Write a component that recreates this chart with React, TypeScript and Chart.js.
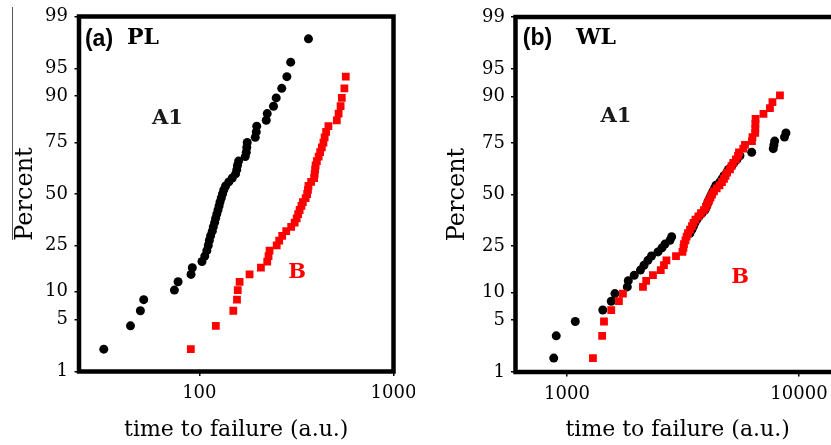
import React, { useEffect, useRef } from 'react';
import { Chart, registerables, LinearScale } from 'chart.js';

Chart.register(...registerables);

// ---------------- data ----------------
// Panel (a) PL : cumulative failure percent (probability plot ranks)
const PL_PERCENT = [2.1, 4.2, 6.3, 8.3, 10.4, 12.5, 14.6, 16.7, 18.8, 20.8, 22.9, 25.0, 27.1, 29.2, 31.3, 33.3, 35.4, 37.5, 39.6, 41.7, 43.8, 45.8, 47.9, 50.0, 52.1, 54.2, 56.3, 58.3, 60.4, 62.5, 64.6, 66.7, 68.8, 70.8, 72.9, 75.0, 77.1, 79.2, 81.3, 83.3, 85.4, 87.5, 89.6, 91.7, 93.8, 95.8, 97.9];
const PL_A1_TIME = [32.2, 44.2, 49.7, 51.7, 74.4, 77.7, 90.6, 92.0, 103.2, 106.7, 109.3, 111.2, 112.6, 114.3, 116.6, 118.0, 119.9, 121.3, 123.0, 124.8, 126.4, 127.8, 129.7, 131.6, 133.6, 136.5, 141.8, 147.8, 153.7, 155.9, 157.2, 159.3, 172.4, 174.5, 175.5, 176.5, 194.1, 196.4, 197.5, 221.1, 223.7, 241.0, 248.8, 265.7, 282.4, 295.5, 364.8];
const PL_B_TIME = [90.4, 121.6, 149.6, 156.3, 157.7, 161.2, 181.4, 207.6, 223.7, 227.2, 229.9, 250.3, 257.8, 267.2, 280.2, 297.2, 309.7, 317.2, 322.8, 328.6, 335.7, 341.3, 352.8, 359.2, 362.6, 364.8, 376.6, 390.3, 392.6, 394.9, 397.2, 402.9, 411.6, 419.0, 427.5, 435.7, 441.9, 449.8, 462.2, 510.5, 521.5, 534.0, 541.7, 558.5, 567.9];

// Panel (b) WL
const WL_PERCENT = [1.6, 3.2, 4.8, 6.5, 8.1, 9.7, 11.3, 12.9, 14.5, 16.1, 17.7, 19.4, 21.0, 22.6, 24.2, 25.8, 27.4, 29.0, 30.6, 32.3, 33.9, 35.5, 37.1, 38.7, 40.3, 41.9, 43.5, 45.2, 46.8, 48.4, 50.0, 51.6, 53.2, 54.8, 56.5, 58.1, 59.7, 61.3, 62.9, 64.5, 66.1, 67.7, 69.4, 71.0, 72.6, 74.2, 75.8, 77.4, 79.0, 80.6, 82.3, 83.9, 85.5, 87.1, 88.7, 90.3];
const WL_A1_TIME = [877, 899, 1086, 1427, 1552, 1610, 1820, 1838, 1950, 2074, 2148, 2234, 2314, 2467, 2567, 2645, 2780, 2827, 3390, 3458, 3510, 3562, 3633, 3707, 3819, 3934, 3993, 4033, 4073, 4135, 4197, 4260, 4324, 4388, 4565, 4657, 4751, 4880, 4968, 5128, 5246, 5405, 5568, 6254, 7748, 7801, 7857, 8660, 8790];
const WL_B_TIME = [1294, 1418, 1444, 1552, 1675, 1743, 2126, 2195, 2348, 2537, 2619, 2685, 2951, 3147, 3178, 3194, 3242, 3280, 3323, 3390, 3458, 3510, 3580, 3689, 3782, 3895, 3973, 4033, 4094, 4155, 4218, 4302, 4419, 4543, 4657, 4751, 4822, 4895, 5043, 5119, 5210, 5351, 5460, 5514, 5754, 5852, 6273, 6305, 6480, 6485, 6490, 6500, 7031, 7499, 7687, 8281];

// tick labels
const PERCENT_TICKS = [1, 5, 10, 25, 50, 75, 90, 95, 99];
const PL_TIME_TICKS = [100, 1000];
const WL_TIME_TICKS = [1000, 10000];

// ---------------- normal probability scale ----------------
function probit(p: number): number {
  const a = [-3.969683028665376e1, 2.209460984245205e2, -2.759285104469687e2, 1.38357751867269e2, -3.066479806614716e1, 2.506628277459239];
  const b = [-5.447609879822406e1, 1.615858368580409e2, -1.556989798598866e2, 6.680131188771972e1, -1.328068155288572e1];
  const c = [-7.784894002430293e-3, -3.223964580411365e-1, -2.400758277161838, -2.549732539343734, 4.374664141464968, 2.938163982698783];
  const d = [7.784695709041462e-3, 3.224671290700398e-1, 2.445134137142996, 3.754408661907416];
  const plow = 0.02425;
  const phigh = 1 - plow;
  if (p < plow) {
    const q = Math.sqrt(-2 * Math.log(p));
    return (((((c[0] * q + c[1]) * q + c[2]) * q + c[3]) * q + c[4]) * q + c[5]) / ((((d[0] * q + d[1]) * q + d[2]) * q + d[3]) * q + 1);
  }
  if (p > phigh) {
    const q = Math.sqrt(-2 * Math.log(1 - p));
    return -(((((c[0] * q + c[1]) * q + c[2]) * q + c[3]) * q + c[4]) * q + c[5]) / ((((d[0] * q + d[1]) * q + d[2]) * q + d[3]) * q + 1);
  }
  const q = p - 0.5;
  const r = q * q;
  return ((((((a[0] * r + a[1]) * r + a[2]) * r + a[3]) * r + a[4]) * r + a[5]) * q) / (((((b[0] * r + b[1]) * r + b[2]) * r + b[3]) * r + b[4]) * r + 1);
}

function normCdf(z: number): number {
  const t = 1 / (1 + (0.3275911 * Math.abs(z)) / Math.SQRT2);
  const y = 1 - ((((1.061405429 * t - 1.453152027) * t + 1.421413741) * t - 0.284496736) * t + 0.254829592) * t * Math.exp((-z * z) / 2);
  return z >= 0 ? 0.5 * (1 + y) : 0.5 * (1 - y);
}

class ProbitScale extends LinearScale {
  static id = 'probit';
  determineDataLimits() {
    const o: any = (this as any).options;
    (this as any).min = typeof o.min === 'number' ? o.min : 1;
    (this as any).max = typeof o.max === 'number' ? o.max : 99;
  }
  buildTicks() {
    return PERCENT_TICKS.map((v) => ({ value: v }));
  }
  configure() {
    super.configure();
    (this as any)._zMin = probit((this as any).min / 100);
    (this as any)._zMax = probit((this as any).max / 100);
  }
  getPixelForValue(value: number) {
    if (value == null || isNaN(value)) return NaN;
    const p = Math.min(Math.max(value, 0.0001), 99.9999) / 100;
    const zMin = (this as any)._zMin;
    const zMax = (this as any)._zMax;
    return (this as any).getPixelForDecimal((probit(p) - zMin) / (zMax - zMin));
  }
  getValueForPixel(pixel: number) {
    const dec = (this as any).getDecimalForPixel(pixel);
    const zMin = (this as any)._zMin;
    const zMax = (this as any)._zMax;
    return 100 * normCdf(zMin + dec * (zMax - zMin));
  }
}
Chart.register(ProbitScale as any);

// ---------------- panel drawing ----------------
type Label = { text: string; dx: number; dy: number; font: string; color: string };

function decorPlugin(labels: Label[]) {
  return {
    id: 'panelDecor',
    afterDraw(chart: any) {
      const { ctx, chartArea: a } = chart;
      ctx.save();
      ctx.lineWidth = 4.5;
      ctx.strokeStyle = '#000';
      ctx.lineJoin = 'miter';
      ctx.strokeRect(a.left, a.top, a.right - a.left, a.bottom - a.top);
      for (const t of labels) {
        ctx.font = t.font;
        ctx.fillStyle = t.color;
        ctx.textAlign = 'center';
        ctx.textBaseline = 'middle';
        ctx.fillText(t.text, a.left + t.dx, a.top + t.dy);
      }
      ctx.restore();
    },
  };
}

type Spec = {
  a1Time: number[];
  a1Pct: number[];
  bTime: number[];
  bPct: number[];
  xMin: number;
  xMax: number;
  xTicks: number[];
  yAxisWidth: number;
  xAxisHeight: number;
  padding: { left: number; right: number; top: number; bottom: number };
  yTickPad: number;
  yTitlePad: number;
  labels: Label[];
};

const SERIF = 'DejaVu Serif';

function buildConfig(s: Spec): any {
  const grid = { display: true, drawOnChartArea: false, drawTicks: true, tickLength: 4.5, color: '#000', lineWidth: 1.5 };
  return {
    type: 'scatter',
    data: {
      datasets: [
        {
          label: 'A1',
          data: s.a1Time.map((x, i) => ({ x, y: s.a1Pct[i] })),
          pointStyle: 'circle',
          pointRadius: 4.5,
          backgroundColor: '#000',
          borderWidth: 0,
          order: 2,
        },
        {
          label: 'B',
          data: s.bTime.map((x, i) => ({ x, y: s.bPct[i] })),
          pointStyle: 'rect',
          pointRadius: 5.5,
          backgroundColor: '#ff0000',
          borderWidth: 0,
          order: 1,
        },
      ],
    },
    options: {
      animation: false,
      responsive: false,
      maintainAspectRatio: false,
      devicePixelRatio: 1,
      events: [],
      layout: { padding: s.padding },
      plugins: { legend: { display: false }, tooltip: { enabled: false } },
      scales: {
        x: {
          type: 'logarithmic',
          position: 'bottom',
          min: s.xMin,
          max: s.xMax,
          bounds: 'data',
          afterBuildTicks: (sc: any) => {
            sc.ticks = s.xTicks.map((v) => ({ value: v }));
          },
          afterFit: (sc: any) => {
            sc.height = s.xAxisHeight;
            sc.paddingLeft = 0;
            sc.paddingRight = 0;
          },
          ticks: {
            autoSkip: false,
            maxRotation: 0,
            minRotation: 0,
            padding: 7,
            color: '#000',
            font: { family: SERIF, size: 18 },
            callback: (v: any) => String(v),
          },
          grid,
          border: { display: false },
          title: {
            display: true,
            text: 'time to failure (a.u.)',
            color: '#000',
            font: { family: SERIF, size: 22 },
            padding: { top: 0, bottom: 2 },
          },
        },
        y: {
          type: 'probit',
          position: 'left',
          min: 1,
          max: 99,
          afterFit: (sc: any) => {
            sc.width = s.yAxisWidth;
            sc.paddingTop = 0;
            sc.paddingBottom = 0;
          },
          ticks: {
            autoSkip: false,
            padding: s.yTickPad,
            color: '#000',
            font: { family: SERIF, size: 18 },
            callback: (v: any) => String(v),
          },
          grid,
          border: { display: false },
          title: {
            display: true,
            text: 'Percent',
            color: '#000',
            font: { family: SERIF, size: 24 },
            padding: { top: s.yTitlePad, bottom: 0 },
          },
        },
      },
    },
    plugins: [decorPlugin(s.labels)],
  };
}

const PANEL_A: Spec = {
  a1Time: PL_A1_TIME,
  a1Pct: PL_PERCENT,
  bTime: PL_B_TIME,
  bPct: PL_PERCENT,
  xMin: 24,
  xMax: 1000,
  xTicks: PL_TIME_TICKS,
  yAxisWidth: 79,
  xAxisHeight: 73.5,
  padding: { left: 0, right: 21.5, top: 16.5, bottom: 0 },
  yTickPad: 6.5,
  yTitlePad: 11.6,
  labels: [
    { text: '(a)', dx: 20, dy: 23.5, font: 'bold 23px "Liberation Sans"', color: '#000' },
    { text: 'PL', dx: 64, dy: 22, font: 'bold 22px "DejaVu Serif"', color: '#000' },
    { text: 'A1', dx: 88.5, dy: 102.5, font: 'bold 21px "DejaVu Serif"', color: '#1a1a1a' },
    { text: 'B', dx: 218, dy: 256.5, font: 'bold 21px "DejaVu Serif"', color: '#ff0000' },
  ],
};

const PANEL_B: Spec = {
  a1Time: WL_A1_TIME,
  a1Pct: WL_PERCENT,
  bTime: WL_B_TIME,
  bPct: WL_PERCENT,
  xMin: 600,
  xMax: 15000,
  xTicks: WL_TIME_TICKS,
  yAxisWidth: 100.5,
  xAxisHeight: 73,
  padding: { left: 0, right: 15.2, top: 17, bottom: 0 },
  yTickPad: 6,
  yTitlePad: 28.6,
  labels: [
    { text: '(b)', dx: 22, dy: 22, font: 'bold 23px "Liberation Sans"', color: '#000' },
    { text: 'WL', dx: 80.5, dy: 21, font: 'bold 22px "DejaVu Serif"', color: '#000' },
    { text: 'A1', dx: 100.5, dy: 100, font: 'bold 21px "DejaVu Serif"', color: '#1a1a1a' },
    { text: 'B', dx: 224.5, dy: 260.5, font: 'bold 21px "DejaVu Serif"', color: '#ff0000' },
  ],
};

function Panel({ spec, left, width }: { spec: Spec; left: number; width: number }) {
  const ref = useRef<HTMLCanvasElement>(null);
  useEffect(() => {
    const chart = new Chart(ref.current as HTMLCanvasElement, buildConfig(spec));
    return () => chart.destroy();
  }, [spec]);
  return (
    <canvas
      ref={ref}
      width={width}
      height={445}
      style={{ position: 'absolute', left, top: 0, width, height: 445, display: 'block' }}
    />
  );
}

export default function App() {
  return (
    <div
      style={{
        position: 'absolute',
        left: 0,
        top: 0,
        width: 831,
        height: 445,
        overflow: 'hidden',
        background: '#fff',
      }}
    >
      <div style={{ position: 'absolute', left: 12, top: 7, width: 1, height: 233, background: '#555' }} />
      <Panel spec={PANEL_A} left={0} width={415} />
      <Panel spec={PANEL_B} left={415} width={440} />
    </div>
  );
}
